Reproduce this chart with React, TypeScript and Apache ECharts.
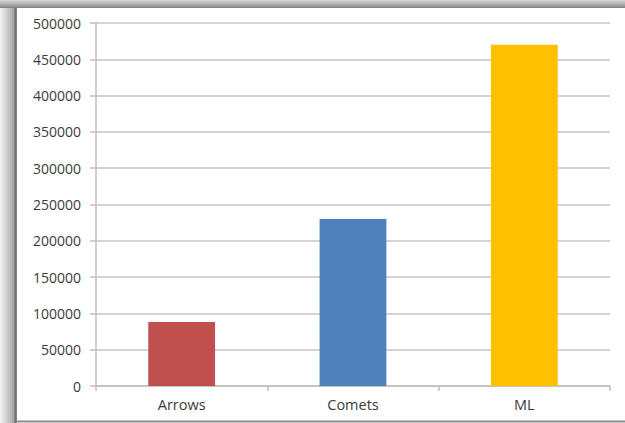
import React, { useEffect, useRef } from "react";
import * as echarts from "echarts";

const categories = ["Arrows", "Comets", "ML"];
const values = [88000, 230000, 470000];
const barColors = ["#c0504d", "#4f81bd", "#ffc000"];

const yMin = 0;
const yMax = 500000;
const yStep = 50000;

export default function App() {
  const ref = useRef<HTMLDivElement>(null);

  useEffect(() => {
    if (!ref.current) return;
    const chart = echarts.init(ref.current, undefined, { renderer: "svg" });
    chart.setOption({
      animation: false,
      backgroundColor: "#ffffff",
      textStyle: { fontFamily: "Open Sans" },
      graphic: [
        // shaded frame along the left edge
        {
          type: "rect",
          left: 0,
          top: 0,
          shape: { x: 0, y: 0, width: 17, height: 423 },
          style: {
            fill: new echarts.graphic.LinearGradient(0, 0, 1, 0, [
              { offset: 0, color: "#f4f4f4" },
              { offset: 0.8, color: "#a8a8a8" },
              { offset: 0.88, color: "#6e6e6e" },
              { offset: 1, color: "#8a8a8a" },
            ]),
          },
          silent: true,
        },
        // shaded frame along the top edge
        {
          type: "rect",
          left: 0,
          top: 0,
          shape: { x: 0, y: 0, width: 625, height: 8 },
          style: {
            fill: new echarts.graphic.LinearGradient(0, 0, 0, 1, [
              { offset: 0, color: "#d8d8d8" },
              { offset: 0.75, color: "#9a9a9a" },
              { offset: 1, color: "#808080" },
            ]),
          },
          silent: true,
        },
        // bottom border line
        {
          type: "line",
          shape: { x1: 16, y1: 421.5, x2: 625, y2: 421.5 },
          style: { stroke: "#8c8c8c", lineWidth: 2 },
          silent: true,
        },
      ],
      grid: { left: 96, right: 15, top: 23, bottom: 37, containLabel: false },
      xAxis: {
        type: "category",
        data: categories,
        axisLine: { show: true, lineStyle: { color: "#bfbfbf", width: 1.5 } },
        axisTick: { show: true, length: 5, lineStyle: { color: "#bfbfbf", width: 1.5 } },
        axisLabel: { color: "#3a3a3a", fontSize: 14.5, margin: 11, fontFamily: "Open Sans" },
        splitLine: { show: false },
      },
      yAxis: {
        type: "value",
        min: yMin,
        max: yMax,
        interval: yStep,
        axisLine: { show: true, lineStyle: { color: "#bfbfbf", width: 1.5 } },
        axisTick: { show: true, length: 6, lineStyle: { color: "#bfbfbf", width: 1.5 } },
        axisLabel: {
          color: "#3a3a3a",
          fontSize: 14,
          margin: 15,
          fontFamily: "Open Sans",
          formatter: (v: number) => String(v),
        },
        splitLine: { show: true, lineStyle: { color: "#d4d4d4", width: 2 } },
      },
      series: [
        {
          type: "bar",
          data: values.map((v, i) => ({
            value: v,
            itemStyle: { color: barColors[i] },
          })),
          barWidth: "39%",
        },
      ],
    });
    return () => chart.dispose();
  }, []);

  return (
    <div
      ref={ref}
      style={{ position: "fixed", left: 0, top: 0, width: 625, height: 423 }}
    />
  );
}
